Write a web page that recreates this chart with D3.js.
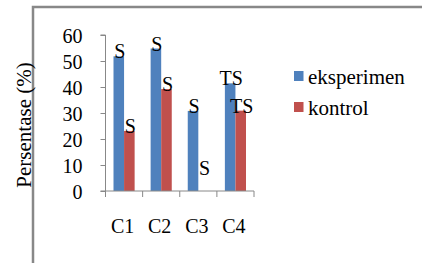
<!DOCTYPE html>
<html>
<head>
<meta charset="utf-8">
<script src="https://cdn.jsdelivr.net/npm/d3@7"></script>
</head>
<body style="margin:0; background:#fff; font-family:'Liberation Serif', 'Times New Roman', serif">
<script>
// chart data
var categories = ["C1", "C2", "C3", "C4"];
var seriesNames = ["eksperimen", "kontrol"];
var eksperimen = [51.8, 54.8, 30.8, 41.4];
var kontrol = [23.1, 39.2, 0, 30.9];
var labelsEksperimen = ["S", "S", "S", "TS"];
var labelsKontrol = ["S", "S", "S", "TS"];
var yTicks = [0, 10, 20, 30, 40, 50, 60];
var colors = ["#4F81BD", "#C0504D"];

var FONT = "'Liberation Serif', 'Times New Roman', serif";
var W = 422, H = 263;
var svg = d3.select("body").append("svg")
    .attr("width", W)
    .attr("height", H)
    .style("font-family", FONT);

// outer frame (only top and left are visible)
svg.append("path")
    .attr("d", "M33,264 V7 H423")
    .attr("fill", "none")
    .attr("stroke", "#888")
    .attr("stroke-width", 2.5);

var plot = {left: 105.5, right: 254, top: 35, bottom: 191};

var x = d3.scaleBand()
    .domain(categories)
    .range([plot.left, plot.right]);

var xSeries = d3.scaleBand()
    .domain(seriesNames)
    .range([8, x.bandwidth() - 8]);

var y = d3.scaleLinear()
    .domain([0, 60])
    .range([plot.bottom, plot.top]);

var rows = categories.map(function(c, i) {
    return {
        cat: c,
        vals: [
            {name: seriesNames[0], v: eksperimen[i], lab: labelsEksperimen[i]},
            {name: seriesNames[1], v: kontrol[i], lab: labelsKontrol[i]}
        ]
    };
});

// bars
var groups = svg.selectAll("g.cat")
    .data(rows)
    .enter().append("g")
    .attr("class", "cat")
    .attr("transform", d => `translate(${x(d.cat)},0)`);

groups.selectAll("rect")
    .data(d => d.vals)
    .enter().append("rect")
    .attr("x", d => xSeries(d.name))
    .attr("y", d => y(d.v))
    .attr("width", xSeries.bandwidth())
    .attr("height", d => y(0) - y(d.v))
    .attr("fill", (d, i) => colors[i]);

// data labels
groups.selectAll("text.lab")
    .data(d => d.vals)
    .enter().append("text")
    .attr("class", "lab")
    .attr("x", d => xSeries(d.name) + xSeries.bandwidth() / 2 + 1)
    .attr("y", d => Math.min(y(d.v) + 2, y(0) - 16))
    .attr("text-anchor", "middle")
    .style("font-family", FONT)
    .style("font-size", "20px")
    .text(d => d.lab);

// y axis
var yAxis = svg.append("g")
    .attr("transform", `translate(${plot.left},0)`)
    .call(d3.axisLeft(y).tickValues(yTicks).tickSize(5).tickPadding(18));
yAxis.attr("font-family", null);
yAxis.select(".domain").attr("stroke", "#888").attr("d", `M-5,${plot.top}H0V${plot.bottom}`);
yAxis.selectAll(".tick line").attr("stroke", "#888");
yAxis.selectAll(".tick text")
    .style("font-family", FONT)
    .style("font-size", "20px")
    .attr("fill", "#000")
    .attr("dy", "0.35em");

// x axis
var xAxis = svg.append("g")
    .attr("transform", `translate(0,${plot.bottom})`);
xAxis.append("line")
    .attr("x1", plot.left - 5).attr("x2", plot.right)
    .attr("stroke", "#888");
xAxis.selectAll("line.tk")
    .data(categories.concat(["end"]))
    .enter().append("line")
    .attr("class", "tk")
    .attr("x1", (d, i) => i < categories.length ? x(d) : plot.right)
    .attr("x2", (d, i) => i < categories.length ? x(d) : plot.right)
    .attr("y1", 0).attr("y2", 6)
    .attr("stroke", "#888");
xAxis.selectAll("text")
    .data(categories)
    .enter().append("text")
    .attr("x", d => x(d) + x.bandwidth() / 2 - 1.5)
    .attr("y", 42)
    .attr("text-anchor", "middle")
    .style("font-family", FONT)
    .style("font-size", "20px")
    .text(d => d);

// y axis title
svg.append("text")
    .attr("transform", "translate(31,125) rotate(-90)")
    .attr("text-anchor", "middle")
    .style("font-family", FONT)
    .style("font-size", "21px")
    .text("Persentase (%)");

// legend
var legend = svg.selectAll("g.leg")
    .data(seriesNames)
    .enter().append("g")
    .attr("class", "leg")
    .attr("transform", (d, i) => `translate(294,${71 + i * 31})`);
legend.append("rect")
    .attr("width", 9.5)
    .attr("height", 10)
    .attr("fill", (d, i) => colors[i]);
legend.append("text")
    .attr("x", 14)
    .attr("y", 13)
    .style("font-family", FONT)
    .style("font-size", "21px")
    .text(d => d);
</script>
</body>
</html>
